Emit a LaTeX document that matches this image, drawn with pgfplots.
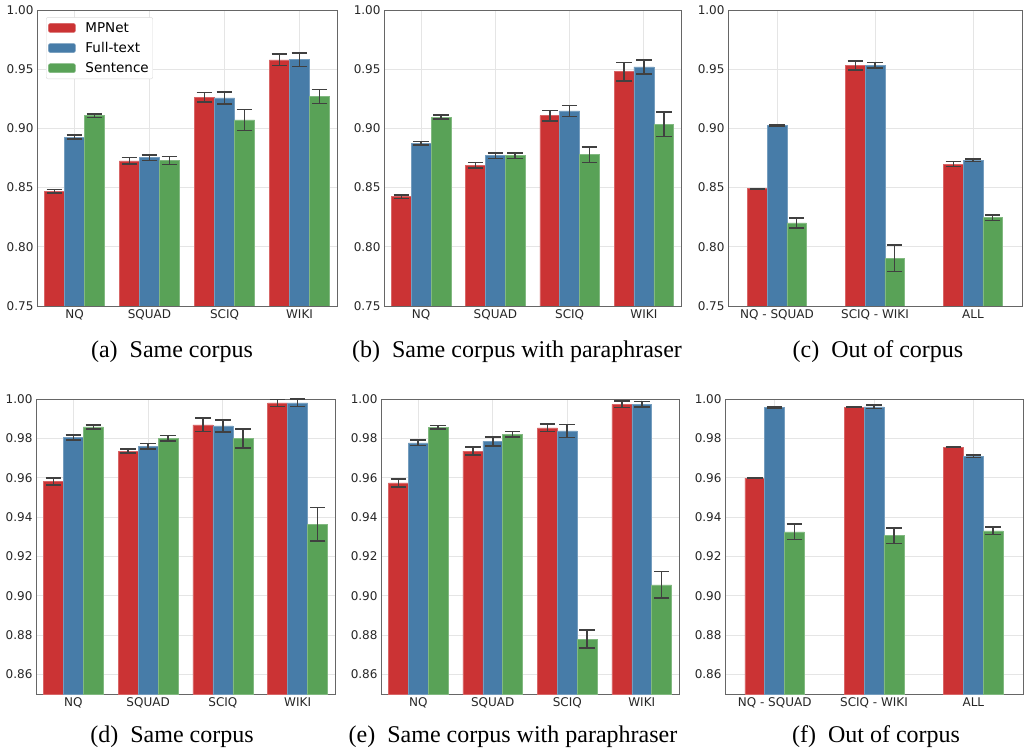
\documentclass[border=0pt]{standalone}
\usepackage{fontspec}
\setmainfont{Liberation Serif}
\newfontfamily\dejavu{DejaVu Sans}
\usepackage{pgfplots}
\pgfplotsset{compat=1.18}
\definecolor{cMP}{RGB}{203,51,52}
\definecolor{cFT}{RGB}{71,124,168}
\definecolor{cSE}{RGB}{89,162,87}
\pgfplotsset{
  panel/.style={
    scale only axis,
    ybar=0pt,
    grid=major,
    grid style={draw=black!10, line width=0.8pt},
    axis line style={draw=black!60, line width=0.8pt},
    major tick length=0pt,
    tick label style={font=\dejavu\fontsize{12}{14}\selectfont, text=black!85},
    /pgf/number format/assume math mode=true,
    yticklabel style={/pgf/number format/.cd, fixed, fixed zerofill, precision=2},
    error bars/error bar style={line width=1.6pt, draw=black!75},
    error bars/error mark options={rotate=90, mark size=7.8pt, line width=1.6pt, draw=black!75},
    legend image code/.code={\fill[##1] (0pt,-4.5pt) rectangle (27pt,4.5pt); \path[draw=none, fill=none] (27pt,0pt) -- (35pt,0pt);},
  },
  four/.style={xmin=-0.5, xmax=3.5, xtick={0,1,2,3}, xticklabels={NQ,SQUAD,SCIQ,WIKI}, bar width=0.267},
  three/.style={xmin=-0.5, xmax=2.5, xtick={0,1,2}, xticklabels={NQ - SQUAD,SCIQ - WIKI,ALL}, bar width=0.2},
  top/.style={ymin=0.75, ymax=1.0, ytick={0.75,0.80,0.85,0.90,0.95,1.00}, height=296pt},
  bot/.style={ymin=0.85, ymax=1.0, ytick={0.86,0.88,0.90,0.92,0.94,0.96,0.98,1.00}, height=295pt},
  mp/.style={fill=cMP, draw=cMP!75!white, line width=0.5pt},
  ft/.style={fill=cFT, draw=cFT!75!white, line width=0.5pt},
  se/.style={fill=cSE, draw=cSE!75!white, line width=0.5pt},
}
\begin{document}
\begin{tikzpicture}
\useasboundingbox (0pt,0pt) rectangle (1025pt,750pt);

% (a)
\begin{axis}[panel, four, top, width=300pt, at={(37pt,444pt)}, anchor=south west,
  legend style={at={(0.03,0.976)}, anchor=north west, draw=black!15, rounded corners=2pt, fill=white,
    font=\dejavu\fontsize{13.5}{16}\selectfont, row sep=4.5pt, inner xsep=2pt, inner ysep=3pt},
  legend cell align=left]
\addplot[mp, bar shift=-0.267, error bars/.cd, y dir=both, y explicit] coordinates {
 (0,0.8470) +- (0,0.0015) (1,0.8725) +- (0,0.0028) (2,0.9262) +- (0,0.0040) (3,0.9578) +- (0,0.0048)};
\addplot[ft, bar shift=0, error bars/.cd, y dir=both, y explicit] coordinates {
 (0,0.8927) +- (0,0.0017) (1,0.8753) +- (0,0.0023) (2,0.9257) +- (0,0.0052) (3,0.9580) +- (0,0.0056)};
\addplot[se, bar shift=0.267, error bars/.cd, y dir=both, y explicit] coordinates {
 (0,0.9108) +- (0,0.0015) (1,0.8730) +- (0,0.0034) (2,0.9071) +- (0,0.0089) (3,0.9268) +- (0,0.0059)};
\legend{MPNet,Full-text,Sentence}
\end{axis}

% (b)
\begin{axis}[panel, four, top, width=297pt, at={(384pt,444pt)}, anchor=south west]
\addplot[mp, bar shift=-0.267, error bars/.cd, y dir=both, y explicit] coordinates {
 (0,0.8423) +- (0,0.0015) (1,0.8688) +- (0,0.0024) (2,0.9108) +- (0,0.0044) (3,0.9479) +- (0,0.0077)};
\addplot[ft, bar shift=0, error bars/.cd, y dir=both, y explicit] coordinates {
 (0,0.8874) +- (0,0.0015) (1,0.8770) +- (0,0.0023) (2,0.9147) +- (0,0.0048) (3,0.9519) +- (0,0.0060)};
\addplot[se, bar shift=0.267, error bars/.cd, y dir=both, y explicit] coordinates {
 (0,0.9096) +- (0,0.0017) (1,0.8770) +- (0,0.0023) (2,0.8778) +- (0,0.0065) (3,0.9037) +- (0,0.0104)};
\end{axis}

% (c)
\begin{axis}[panel, three, top, width=294pt, at={(728pt,444pt)}, anchor=south west]
\addplot[mp, bar shift=-0.2, error bars/.cd, y dir=both, y explicit] coordinates {
 (0,0.8491) +- (0,0.0003) (1,0.9530) +- (0,0.0037) (2,0.8699) +- (0,0.0020)};
\addplot[ft, bar shift=0, error bars/.cd, y dir=both, y explicit] coordinates {
 (0,0.9026) +- (0,0.0005) (1,0.9533) +- (0,0.0023) (2,0.8730) +- (0,0.0010)};
\addplot[se, bar shift=0.2, error bars/.cd, y dir=both, y explicit] coordinates {
 (0,0.8201) +- (0,0.0042) (1,0.7903) +- (0,0.0113) (2,0.8246) +- (0,0.0025)};
\end{axis}

% (d)
\begin{axis}[panel, four, bot, width=299pt, at={(36pt,56pt)}, anchor=south west]
\addplot[mp, bar shift=-0.267, error bars/.cd, y dir=both, y explicit] coordinates {
 (0,0.9580) +- (0,0.0017) (1,0.9735) +- (0,0.0011) (2,0.9868) +- (0,0.0034) (3,0.9980) +- (0,0.0018)};
\addplot[ft, bar shift=0, error bars/.cd, y dir=both, y explicit] coordinates {
 (0,0.9804) +- (0,0.0014) (1,0.9760) +- (0,0.0014) (2,0.9863) +- (0,0.0031) (3,0.9980) +- (0,0.0019)};
\addplot[se, bar shift=0.267, error bars/.cd, y dir=both, y explicit] coordinates {
 (0,0.9858) +- (0,0.0010) (1,0.9800) +- (0,0.0014) (2,0.9799) +- (0,0.0049) (3,0.9363) +- (0,0.0085)};
\end{axis}

% (e)
\begin{axis}[panel, four, bot, width=298pt, at={(381pt,56pt)}, anchor=south west]
\addplot[mp, bar shift=-0.267, error bars/.cd, y dir=both, y explicit] coordinates {
 (0,0.9574) +- (0,0.0020) (1,0.9735) +- (0,0.0020) (2,0.9853) +- (0,0.0019) (3,0.9973) +- (0,0.0016)};
\addplot[ft, bar shift=0, error bars/.cd, y dir=both, y explicit] coordinates {
 (0,0.9777) +- (0,0.0014) (1,0.9784) +- (0,0.0024) (2,0.9838) +- (0,0.0033) (3,0.9973) +- (0,0.0014)};
\addplot[se, bar shift=0.267, error bars/.cd, y dir=both, y explicit] coordinates {
 (0,0.9856) +- (0,0.0010) (1,0.9821) +- (0,0.0014) (2,0.8779) +- (0,0.0046) (3,0.9055) +- (0,0.0068)};
\end{axis}

% (f)
\begin{axis}[panel, three, bot, width=298pt, at={(725pt,56pt)}, anchor=south west]
\addplot[mp, bar shift=-0.2, error bars/.cd, y dir=both, y explicit] coordinates {
 (0,0.9598) +- (0,0.0002) (1,0.9958) +- (0,0.0002) (2,0.9755) +- (0,0.0002)};
\addplot[ft, bar shift=0, error bars/.cd, y dir=both, y explicit] coordinates {
 (0,0.9958) +- (0,0.0004) (1,0.9960) +- (0,0.0008) (2,0.9709) +- (0,0.0006)};
\addplot[se, bar shift=0.2, error bars/.cd, y dir=both, y explicit] coordinates {
 (0,0.9325) +- (0,0.0040) (1,0.9305) +- (0,0.0040) (2,0.9330) +- (0,0.0018)};
\end{axis}

\begin{scope}[every node/.style={anchor=base, font=\fontsize{24}{28}\selectfont, inner sep=0pt}]
\node at (172pt,392pt) {(a)\enspace Same corpus};
\node at (517pt,392pt) {(b)\enspace Same corpus with paraphraser};
\node at (878pt,392pt) {(c)\enspace Out of corpus};
\node at (172pt,8pt) {(d)\enspace Same corpus};
\node at (513pt,8pt) {(e)\enspace Same corpus with paraphraser};
\node at (876pt,8pt) {(f)\enspace Out of corpus};
\end{scope}
\end{tikzpicture}
\end{document}
